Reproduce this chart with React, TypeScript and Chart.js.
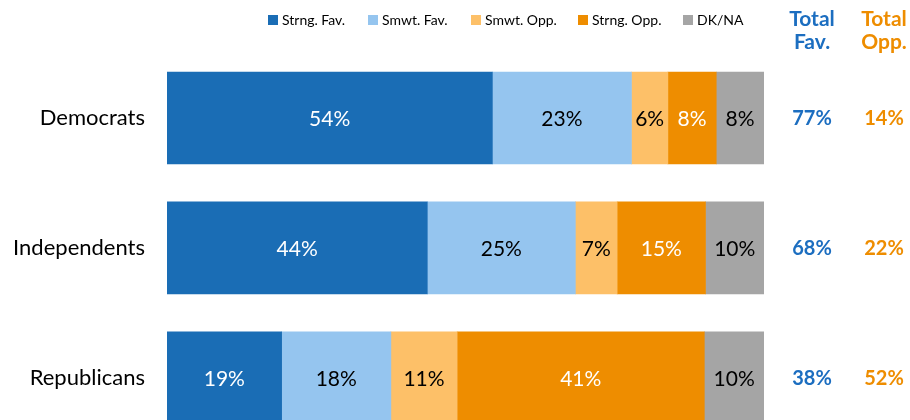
import React, { useEffect, useRef } from "react";
import { Chart, registerables } from "chart.js";

Chart.register(...registerables);

const categories = ["Democrats", "Independents", "Republicans"];
const seriesNames = ["Strng. Fav.", "Smwt. Fav.", "Smwt. Opp.", "Strng. Opp.", "DK/NA"];
const seriesColors = ["#1A6DB5", "#95C5EF", "#FDC068", "#EE8D00", "#A5A5A5"];
const labelColors = ["#FFFFFF", "#000000", "#000000", "#FFFFFF", "#000000"];

const strngFav = [54.5, 43.6, 19.2];
const smwtFav = [23.3, 24.8, 18.3];
const smwtOpp = [6.1, 7.0, 11.1];
const strngOpp = [8.1, 14.8, 41.4];
const dkna = [8.0, 9.8, 10.0];

const strngFavLabels = ["54%", "44%", "19%"];
const smwtFavLabels = ["23%", "25%", "18%"];
const smwtOppLabels = ["6%", "7%", "11%"];
const strngOppLabels = ["8%", "15%", "41%"];
const dknaLabels = ["8%", "10%", "10%"];

const totalFav = ["77%", "68%", "38%"];
const totalOpp = ["14%", "22%", "52%"];

const FONT = "Lato, 'Open Sans', sans-serif";
const FAV_COLOR = "#1C6EC0";
const OPP_COLOR = "#EE8D00";
const LEGEND_X = [268, 368, 471, 578, 683];
const H = 478;

export default function App() {
  const ref = useRef<HTMLCanvasElement | null>(null);

  useEffect(() => {
    if (!ref.current) return;
    const values = [strngFav, smwtFav, smwtOpp, strngOpp, dkna];
    const labels = [strngFavLabels, smwtFavLabels, smwtOppLabels, strngOppLabels, dknaLabels];

    const overlay = {
      id: "overlay",
      afterDatasetsDraw(chart: any) {
        const ctx = chart.ctx;
        ctx.save();
        ctx.font = `21px ${FONT}`;
        ctx.textAlign = "center";
        ctx.textBaseline = "middle";
        chart.data.datasets.forEach((ds: any, di: number) => {
          const meta = chart.getDatasetMeta(di);
          meta.data.forEach((el: any, i: number) => {
            const cx = (el.x + el.base) / 2;
            ctx.fillStyle = labelColors[di];
            ctx.fillText(labels[di][i], cx, el.y + 1);
          });
        });
        const yScale = chart.scales.y;
        ctx.font = `bold 20px ${FONT}`;
        categories.forEach((_, i) => {
          const y = yScale.getPixelForValue(i);
          ctx.fillStyle = FAV_COLOR;
          ctx.fillText(totalFav[i], 812, y + 1);
          ctx.fillStyle = OPP_COLOR;
          ctx.fillText(totalOpp[i], 884, y + 1);
        });
        ctx.font = `bold 21px ${FONT}`;
        ctx.fillStyle = FAV_COLOR;
        ctx.fillText("Total", 812, 19);
        ctx.fillText("Fav.", 812, 42);
        ctx.fillStyle = OPP_COLOR;
        ctx.fillText("Total", 884, 19);
        ctx.fillText("Opp.", 884, 42);
        ctx.font = `14px ${FONT}`;
        ctx.textAlign = "left";
        seriesNames.forEach((name, i) => {
          const x = LEGEND_X[i];
          ctx.fillStyle = seriesColors[i];
          ctx.fillRect(x, 15, 10, 10);
          ctx.fillStyle = "#000000";
          ctx.fillText(name, x + 14, 20.5);
        });
        ctx.restore();
      },
    };

    const chart = new Chart(ref.current, {
      type: "bar",
      data: {
        labels: categories,
        datasets: seriesNames.map((name, i) => ({
          label: name,
          data: values[i],
          backgroundColor: seriesColors[i],
          borderWidth: 0,
          barThickness: 92,
        })),
      },
      options: {
        indexAxis: "y",
        animation: false,
        responsive: false,
        maintainAspectRatio: false,
        layout: { padding: { top: 53, right: 146, left: 0, bottom: 0 } },
        plugins: { legend: { display: false }, tooltip: { enabled: false } },
        scales: {
          x: { stacked: true, min: 0, max: 100, display: false },
          y: {
            stacked: true,
            grid: { display: false, drawTicks: false },
            border: { display: false },
            ticks: { color: "#000000", font: { size: 22, family: FONT }, padding: 22 },
            afterFit(scale: any) {
              scale.width = 167;
            },
          },
        },
      },
      plugins: [overlay],
    });
    return () => chart.destroy();
  }, []);

  return (
    <div style={{ position: "fixed", left: 0, top: 0, width: 910, height: H, background: "#fff" }}>
      <canvas ref={ref} width={910} height={H} style={{ width: 910, height: H }} />
    </div>
  );
}
